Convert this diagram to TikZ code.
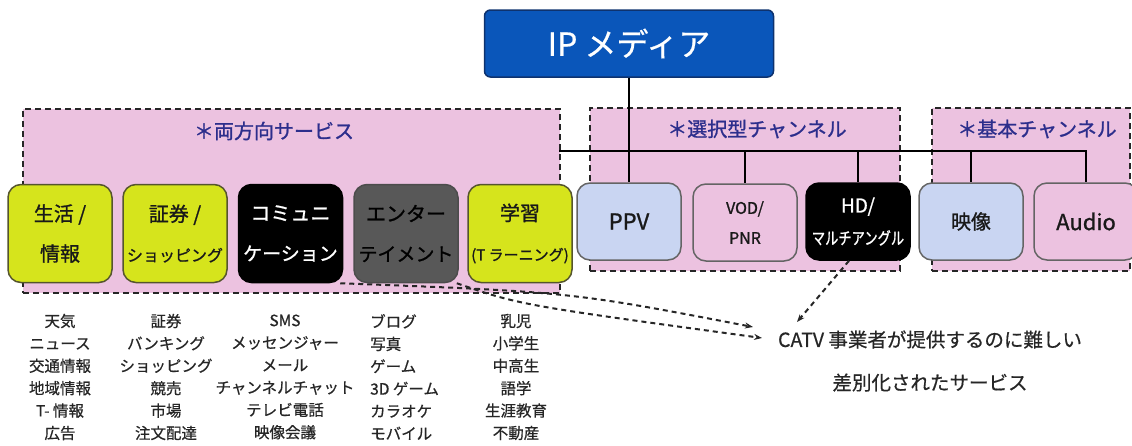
\documentclass[tikz,border=0pt]{standalone}
\usepackage{fontspec}
\setmainfont{Noto Sans CJK JP}[FakeBold=0.6]
\newfontfamily\boxfont{Noto Sans CJK JP}[FakeBold=1.1]
\usepackage{graphicx}
\usetikzlibrary{arrows.meta}
\definecolor{pinkbg}{RGB}{236,194,224}
\definecolor{yg}{RGB}{214,228,28}
\definecolor{ygdraw}{RGB}{85,85,45}
\definecolor{lblue}{RGB}{201,213,242}
\definecolor{pinkbox}{RGB}{236,194,224}
\definecolor{ipblue}{RGB}{10,86,186}
\definecolor{ipdraw}{RGB}{14,50,110}
\definecolor{titleblue}{RGB}{44,46,140}
\definecolor{entgray}{RGB}{88,88,88}
\definecolor{boxdraw}{RGB}{100,100,100}
\newcommand\fs[2]{\fontsize{#1}{#2}\selectfont}
\begin{document}
\begin{tikzpicture}[x=1pt,y=-1pt,
  grp/.style={draw=black!85, line width=2pt, dash pattern=on 6pt off 4pt, fill=pinkbg, inner sep=0pt, anchor=north west},
  grptitle/.style={text=titleblue, font=\boxfont\fs{20}{24}, inner sep=0pt},
  svc/.style={rounded corners=13pt, line width=1.5pt, inner sep=0pt, align=center, minimum width=104pt},
  tallbox/.style={svc, minimum height=98pt, font=\boxfont\fs{20}{40}},
  shortbox/.style={svc, minimum height=77pt, font=\boxfont\fs{20}{30}},
  ygfill/.style={fill=yg, draw=ygdraw, text=black!90},
  blkfill/.style={fill=black, draw=black, text=white},
  grayfill/.style={fill=entgray, draw=black!70, text=black},
  bluefill/.style={fill=lblue, draw=boxdraw, text=black!90},
  pinkfill/.style={fill=pinkbox, draw=boxdraw, text=black!90},
  conn/.style={line width=2.2pt, black},
  darr/.style={line width=2pt, black!85, dash pattern=on 5pt off 4pt, -{Stealth[length=8pt,width=6pt]}},
  listtxt/.style={font=\fs{15.5}{22.4}, align=center, inner sep=0pt, text=black!85}
]
\useasboundingbox (0,0) rectangle (1132,445);
\begin{scope}
\clip (0,0) rectangle (1132,445);
% groups
\node[grp, minimum width=537pt, minimum height=184pt] (grpA) at (22,108) {};
\node[grp, minimum width=310pt, minimum height=163pt] (grpB) at (589,107) {};
\node[grp, minimum width=198pt, minimum height=163pt] (grpC) at (931,107) {};
\node[grptitle] (tA) at (274,131) {＊両方向サービス};
\node[grptitle] (tB) at (757,129) {＊選択型チャンネル};
\node[grptitle] (tC) at (1037,129) {＊基本チャンネル};
% top node
\node[draw=ipdraw, fill=ipblue, rounded corners=6pt, line width=1.5pt, minimum width=289pt, minimum height=67pt, inner sep=0pt, text=white, font=\fs{32}{36}] (ip) at (629,43.5) {IP メディア};
% service boxes, group 1
\node[tallbox, ygfill] (life) at (60,233.5) {生活 /\\情報};
\node[tallbox, ygfill] (sec) at (175,233.5) {証券 /\\{\fs{16}{40}ショッピング}};
\node[tallbox, blkfill] (comm) at (290.5,233.5) {コミュニ\\{\fs{19}{40}ケーション}};
\node[tallbox, grayfill] (ent) at (406,233.5) {エンター\\{\fs{19}{40}テイメント}};
\node[tallbox, ygfill] (learn) at (520,233.5) {学習\\{\fs{15}{40}(T ラーニング)}};
% service boxes, group 2
\node[shortbox, bluefill, font=\boxfont\fs{22}{30}] (ppv) at (629,221.5) {PPV};
\node[shortbox, pinkfill, font=\boxfont\fs{16}{30}] (vod) at (745,222.5) {VOD/\\PNR};
\node[shortbox, blkfill, font=\boxfont\fs{19}{32}] (hd) at (858,221.5) {HD/\\\scalebox{0.78}[1]{\fs{17}{32}マルチアングル}};
\node[shortbox, bluefill] (eizo) at (971,221.5) {映像};
\node[shortbox, pinkfill, font=\boxfont\fs{22}{30}] (audio) at (1086,221.5) {Audio};
% connectors
\coordinate (busL) at (559,151);
\draw[conn] (ip.south) -- (ppv.north);
\draw[conn] (busL) -| (audio.north);
\draw[conn] (vod.north |- busL) -- (vod.north);
\draw[conn] (hd.north |- busL) -- (hd.north);
\draw[conn] (eizo.north |- busL) -- (eizo.north);
% lists
\node[listtxt] (l1) at (60,377) {天気\\ニュース\\交通情報\\地域情報\\T- 情報\\広告};
\node[listtxt] (l2) at (166,377) {証券\\バンキング\\ショッピング\\競売\\市場\\注文配達};
\node[listtxt] (l3) at (285,377) {SMS\\メッセンジャー\\メール\\チャンネルチャット\\テレビ電話\\映像会議};
\node[listtxt, align=left, anchor=west] (l4) at (370,377) {ブログ\\写真\\ゲーム\\3D ゲーム\\カラオケ\\モバイル};
\node[listtxt] (l5) at (516,377) {乳児\\小学生\\中高生\\語学\\生涯教育\\不動産};
% CATV text
\node[font=\fs{19.5}{43}, align=center, inner sep=0pt, text=black!85] (catv) at (930,361) {CATV 事業者が提供するのに難しい\\差別化されたサービス};
\coordinate (a1) at (753,327);
\coordinate (a2) at (762,338);
\coordinate (a3) at (797,322);
\draw[darr] ([xshift=-3pt]comm.south east) .. controls (571,292) .. (a1);
\draw[darr] ([xshift=-2pt]ent.south east) .. controls (520,305) .. (a2);
\draw[darr] ([xshift=-9pt]hd.south) -- (a3);
\end{scope}
\end{tikzpicture}
\end{document}
